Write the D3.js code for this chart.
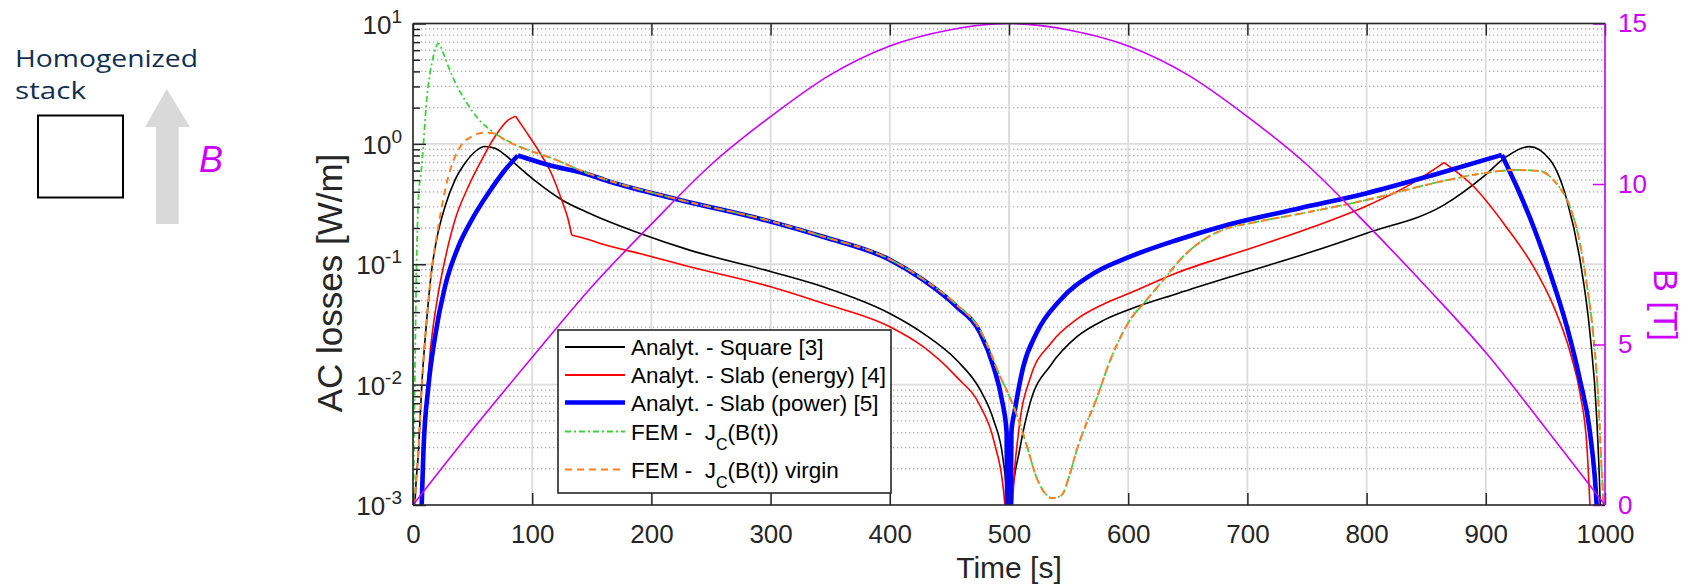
<!DOCTYPE html>
<html><head><meta charset="utf-8">
<script src="https://cdn.jsdelivr.net/npm/d3@7"></script>
<style>body{margin:0;background:#fff}svg{display:block}</style>
</head><body>
<svg id="chart" width="1688" height="586"></svg>
<script>
// ---------------- data ----------------
const timeTicks  = [0,100,200,300,400,500,600,700,800,900,1000];
const lossTicks  = [1e-3,1e-2,1e-1,1,10];
const lossTickExp = ["-3","-2","-1","0","1"];
const fieldTicks = [0,5,10,15];

const seriesNames = ["Analyt. - Square [3]","Analyt. - Slab (energy) [4]","Analyt. - Slab (power) [5]","FEM -  J","FEM -  J"];

// Analyt. - Square [3]
const squareT = [0,1.7,4.5,7.3,11.5,15.7,19.8,26.8,35.2,43.6,52,60.4,68.8,77.2,88.4,105,125,145,161,190,232,300,344,400,428,456,476,487,495,498.6,500,502,509,518,535,557,580,602,641,697,752,800,865,898,917,936.5,954,968,979,987.4,993,996,1000];
const squareV = [0,0.001,0.0027,0.0096,0.0344,0.09,0.16,0.30,0.50,0.69,0.86,0.95,0.92,0.81,0.647,0.471,0.342,0.273,0.233,0.181,0.131,0.087,0.065,0.039,0.0267,0.016,0.009,0.0051,0.0024,0.001,0,0.001,0.0029,0.0072,0.0145,0.025,0.0345,0.0425,0.057,0.085,0.125,0.181,0.311,0.534,0.78,0.948,0.734,0.342,0.109,0.0267,0.0054,0.001,0];
const squareCorners = [500];

// Analyt. - Slab (energy) [4]
const slabEnergyT = [0,6.7,10.1,14.3,19.8,26.8,35.2,46.4,57.6,68.8,80,86,94,105,116,124.7,130.3,133.1,148.5,161,190,232,300,344,400,428,456,476,487,496.6,500,503,508,518,535,557,580,602,641,697,752.5,800,836,865,890,917,940,957,971,979,985,987.4,1000];
const slabEnergyV = [0,0.001,0.0051,0.0182,0.0474,0.109,0.233,0.441,0.734,1.15,1.58,1.70,1.30,0.889,0.570,0.342,0.233,0.175,0.159,0.145,0.123,0.0955,0.065,0.0474,0.0303,0.0207,0.0116,0.0066,0.0035,0.001,0,0.001,0.004,0.0115,0.022,0.035,0.047,0.058,0.085,0.13,0.20,0.305,0.456,0.698,0.44,0.205,0.0955,0.0445,0.0182,0.0085,0.0029,0.001,0];
const slabEnergyCorners = [86,133.1,500,865];

// Analyt. - Slab (power) [5]
const slabPowerT = [0,7.3,8.7,12.9,18.5,26.8,38,49.2,63.2,77.2,88,113,148.5,161,218,300,344,400,428,456,476,487,494,498,500,502,505,512,523,543,571,601.5,641,683,744,800,856,913.5,926,940,954,968,979,987.4,993,1000];
const slabPowerV = [0,0.001,0.0027,0.0096,0.025,0.065,0.14,0.233,0.389,0.607,0.80,0.67,0.552,0.50,0.353,0.226,0.169,0.109,0.074,0.0445,0.0267,0.0141,0.0075,0.004,0,0.004,0.0062,0.0141,0.0267,0.0505,0.084,0.1156,0.159,0.212,0.292,0.389,0.552,0.81,0.44,0.205,0.084,0.0303,0.0109,0.004,0.001,0];
const slabPowerCorners = [88,500,913.5];

// FEM - Jc(B(t)) : start of the curve
const femHeadT = [0,0.5,1.5,3,4.5,7.3,11.5,17,21.5,25,30,35,45,55,65,80,95];
const femHeadV = [0,0.001,0.01,0.1,0.342,0.647,2.32,5.3,6.85,5.8,4.3,3.3,2.2,1.6,1.3,1.05,0.9];
// FEM - Jc(B(t)) virgin : start of the curve
const virginHeadT = [0,1.7,4.5,7.3,11.5,15.7,21.2,29.6,38,49.2,60.4,68,77,95];
const virginHeadV = [0,0.001,0.0027,0.0096,0.0344,0.0897,0.205,0.534,0.889,1.15,1.24,1.22,1.08,0.9];
// common part of both FEM curves
const femTailT = [113.5,148.5,218,300,344,400,428,456,476,484,492,498,506,515,523,532,536,544,551,557,564,572,585,601.5,613,629.5,646,663,683,702,752,800,856,898,926,945,959,970.6,979,984.6,990,994.4,997,998.5,1000];
const femTailV = [0.78,0.56,0.355,0.228,0.17,0.11,0.075,0.046,0.028,0.019,0.012,0.009,0.0058,0.0031,0.0017,0.0012,0.00114,0.0012,0.0018,0.0029,0.0045,0.007,0.016,0.0344,0.0474,0.074,0.1156,0.159,0.199,0.219,0.272,0.342,0.471,0.57,0.607,0.595,0.471,0.30,0.149,0.0695,0.0267,0.0075,0.0021,0.001,0];

// B(t) on the right axis
const fieldT = [0,50,100,150,200,250,300,350,400,450,500,550,600,650,700,750,800,850,900,950,1000];
const fieldB = [0,2.35,4.6,6.8,8.75,10.6,12.1,13.4,14.3,14.8,15,14.8,14.3,13.4,12.1,10.6,8.75,6.8,4.75,2.4,0];

// ---------------- drawing ----------------
const W = 1688, H = 586;
const margin = {left:413, right:83, top:23.5, bottom:81};
const svg = d3.select("#chart");
const FONT = "'Liberation Sans', Arial, Helvetica, sans-serif";
const AXC = "#262626", MAG = "#cc00ff";
const TICKFS = 26;

const x = d3.scaleLinear().domain([0,1000]).range([margin.left, W - margin.right]);
const y = d3.scaleLog().domain([1e-3,10]).range([H - margin.bottom, margin.top]);
const yR = d3.scaleLinear().domain([0,15]).range([H - margin.bottom, margin.top]);
const [x0,x1] = x.range(), [yb,yt] = y.range();

// grid
const grid = svg.append("g");
const minorVals = [];
for (let e=-3; e<1; e++) for (let m=2; m<10; m++) minorVals.push(m*Math.pow(10,e));
grid.selectAll("line.minor").data(minorVals).join("line")
  .attr("x1",x0).attr("x2",x1).attr("y1",d=>y(d)).attr("y2",d=>y(d))
  .attr("stroke","#aaaaaa").attr("stroke-width",1.3).attr("stroke-dasharray","1.3,2.7");
grid.selectAll("line.hmaj").data(lossTicks).join("line")
  .attr("x1",x0).attr("x2",x1).attr("y1",d=>y(d)).attr("y2",d=>y(d))
  .attr("stroke","#dcdcdc").attr("stroke-width",1.8);
grid.selectAll("line.vmaj").data(timeTicks).join("line")
  .attr("x1",d=>x(d)).attr("x2",d=>x(d)).attr("y1",yb).attr("y2",yt)
  .attr("stroke","#dcdcdc").attr("stroke-width",1.8);

// clip
svg.append("clipPath").attr("id","clip").append("rect")
  .attr("x",x0).attr("y",yt).attr("width",x1-x0).attr("height",yb-yt);

const plot = svg.append("g").attr("clip-path","url(#clip)");
const lineGen = d3.line().x(d=>x(d[0])).y(d=>y(Math.max(d[1],1e-5))).curve(d3.curveMonotoneX);

function zip(T,V){ return T.map((t,i)=>[t,V[i]]); }
function segments(pts, corners){
  const segs=[]; let cur=[];
  pts.forEach(p=>{ cur.push(p); if (corners.includes(p[0])) { segs.push(cur); cur=[p]; } });
  if (cur.length>1) segs.push(cur);
  return segs;
}
function drawSeries(pts, corners, style){
  const g = plot.append("g");
  g.selectAll("path").data(segments(pts,corners)).join("path")
    .attr("d",lineGen).attr("fill","none")
    .attr("stroke",style.color).attr("stroke-width",style.width)
    .attr("stroke-dasharray",style.dash||null)
    .attr("stroke-linejoin","round");
}

const styles = [
  {color:"#000000", width:1.6},
  {color:"#ff0000", width:1.6},
  {color:"#0000ff", width:4.6},
  {color:"#3fd23f", width:1.8, dash:"6,3,2,3"},
  {color:"#ff7f24", width:2.0, dash:"7,5"}
];

drawSeries(zip(squareT,squareV), squareCorners, styles[0]);
drawSeries(zip(slabEnergyT,slabEnergyV), slabEnergyCorners, styles[1]);
drawSeries(zip(slabPowerT,slabPowerV), slabPowerCorners, styles[2]);
drawSeries(zip(femHeadT.concat(femTailT), femHeadV.concat(femTailV)), [], styles[3]);
drawSeries(zip(virginHeadT.concat(femTailT), virginHeadV.concat(femTailV)), [], styles[4]);

// B(t)
plot.append("path").datum(zip(fieldT,fieldB))
  .attr("d", d3.line().x(d=>x(d[0])).y(d=>yR(d[1])).curve(d3.curveMonotoneX))
  .attr("fill","none").attr("stroke",MAG).attr("stroke-width",1.6);

// axes
function styleAxis(g,color){
  g.select(".domain").remove();
  g.selectAll(".tick line").attr("stroke",color).attr("stroke-width",1.5);
  g.selectAll(".tick text").attr("fill",color).style("font-family",FONT).style("font-size",TICKFS+"px");
}
const gB = svg.append("g").attr("transform",`translate(0,${yb})`)
  .call(d3.axisBottom(x).tickValues(timeTicks).tickSize(-12).tickPadding(19.5).tickFormat(d3.format("d")));
styleAxis(gB,AXC);
const gT = svg.append("g").attr("transform",`translate(0,${yt})`)
  .call(d3.axisTop(x).tickValues(timeTicks).tickSize(-12).tickFormat(""));
styleAxis(gT,AXC);
const gLm = svg.append("g").attr("transform",`translate(${x0},0)`)
  .call(d3.axisLeft(y).tickValues(minorVals).tickSize(-7).tickFormat(""));
styleAxis(gLm,AXC);
const gL = svg.append("g").attr("transform",`translate(${x0},0)`)
  .call(d3.axisLeft(y).tickValues(lossTicks).tickSize(-13).tickFormat(""));
styleAxis(gL,AXC);
gL.selectAll(".tick text").each(function(d,i){
  const t = d3.select(this).text(null).attr("dy",null).attr("y",9.5).attr("x",-11);
  t.append("tspan").text("10");
  t.append("tspan").attr("dy",-11).style("font-size","19px").text(lossTickExp[i]);
});
const gR = svg.append("g").attr("transform",`translate(${x1},0)`)
  .call(d3.axisRight(yR).tickValues(fieldTicks).tickSize(-12).tickPadding(13).tickFormat(d3.format("d")));
styleAxis(gR,MAG);

// frame
svg.append("line").attr("x1",x0).attr("x2",x1).attr("y1",yb).attr("y2",yb).attr("stroke",AXC).attr("stroke-width",1.6);
svg.append("line").attr("x1",x0).attr("x2",x1).attr("y1",yt).attr("y2",yt).attr("stroke",AXC).attr("stroke-width",1.6);
svg.append("line").attr("x1",x0).attr("x2",x0).attr("y1",yt).attr("y2",yb).attr("stroke",AXC).attr("stroke-width",1.6);
svg.append("line").attr("x1",x1).attr("x2",x1).attr("y1",yt).attr("y2",yb).attr("stroke",MAG).attr("stroke-width",1.6);

// axis titles
svg.append("text").attr("x",(x0+x1)/2).attr("y",578).attr("text-anchor","middle")
  .attr("fill",AXC).style("font-family",FONT).style("font-size","30px").text("Time [s]");
svg.append("text").attr("transform",`translate(342,283) rotate(-90)`).attr("text-anchor","middle")
  .attr("fill",AXC).style("font-family",FONT).style("font-size","35px").text("AC losses [W/m]");
svg.append("text").attr("transform",`translate(1654,305) rotate(90)`).attr("text-anchor","middle")
  .attr("fill",MAG).style("font-family",FONT).style("font-size","34px").text("B [T]");

// legend
const lg = svg.append("g");
lg.append("rect").attr("x",558).attr("y",330).attr("width",333).attr("height",163)
  .attr("fill","#fff").attr("stroke",AXC).attr("stroke-width",1.6);
const rowY = [347,375,402.5,431.5,469.5];
styles.forEach((s,i)=>{
  lg.append("line").attr("x1",565).attr("x2",625).attr("y1",rowY[i]).attr("y2",rowY[i])
    .attr("stroke",s.color).attr("stroke-width",s.width===4.6?4.6:1.8).attr("stroke-dasharray",s.dash||null);
  const t = lg.append("text").attr("x",631).attr("y",rowY[i]+8).attr("fill","#000")
    .style("font-family",FONT).style("font-size","22.5px").style("white-space","pre");
  t.append("tspan").text(seriesNames[i]);
  if (i>=3){
    t.append("tspan").attr("dy",10).style("font-size","16px").text("C");
    t.append("tspan").attr("dy",-10).text(i===3?"(B(t))":"(B(t)) virgin");
  }
});

// left annotation
const ann = svg.append("g");
ann.append("text").attr("x",15).attr("y",67).attr("fill","#10304f")
  .style("font-family","'Open Sans', sans-serif").style("font-size","24px")
  .attr("textLength",183).attr("lengthAdjust","spacingAndGlyphs").text("Homogenized");
ann.append("text").attr("x",15).attr("y",99).attr("fill","#10304f")
  .style("font-family","'Open Sans', sans-serif").style("font-size","24px")
  .attr("textLength",71).attr("lengthAdjust","spacingAndGlyphs").text("stack");
ann.append("rect").attr("x",38).attr("y",115.5).attr("width",85).attr("height",82)
  .attr("fill","none").attr("stroke","#000").attr("stroke-width",2);
ann.append("path").attr("d","M156,224 L156,127 L145,127 L166.7,89 L190,127 L178.7,127 L178.7,224 Z")
  .attr("fill","#d9d9d9");
ann.append("text").attr("x",199).attr("y",172).attr("fill",MAG)
  .style("font-family",FONT).style("font-style","italic").style("font-size","36px").text("B");
</script>
</body></html>
